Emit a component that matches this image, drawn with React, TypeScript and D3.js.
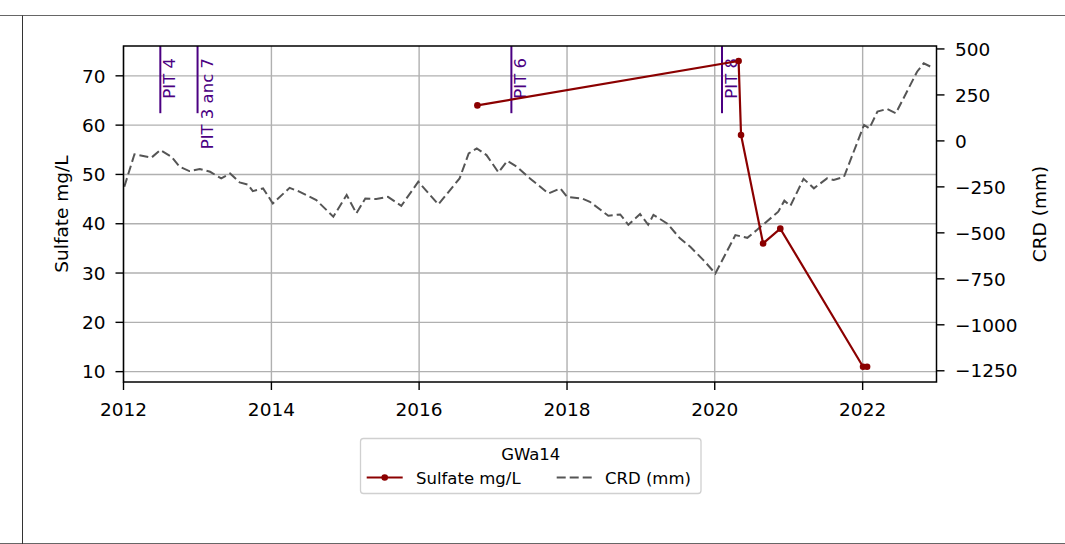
import React from "react";
import * as d3 from "d3";

const sulfateDates = ["2016-10-15", "2020-04-28", "2020-05-10", "2020-08-27", "2020-11-20", "2022-01-03", "2022-01-23"];
const sulfateValues = [64, 73, 58, 36, 39, 11, 11];

const crdDates = [
  "2012-01-05", "2012-02-24", "2012-05-18", "2012-07-01", "2012-08-25", "2012-10-04", "2012-11-21",
  "2013-01-12", "2013-03-04", "2013-04-28", "2013-06-11", "2013-07-28", "2013-09-06", "2013-10-01", "2013-11-21",
  "2014-01-08", "2014-04-01", "2014-05-19", "2014-08-11", "2014-11-03",
  "2015-01-08", "2015-02-25", "2015-04-10", "2015-06-03", "2015-07-31", "2015-10-05", "2015-12-28",
  "2016-04-05", "2016-07-19", "2016-09-02", "2016-10-12", "2016-11-29",
  "2017-01-27", "2017-03-12", "2017-04-28", "2017-07-02", "2017-10-01", "2017-11-29",
  "2018-01-01", "2018-03-15", "2018-04-24", "2018-07-24", "2018-09-21", "2018-10-31", "2018-12-28",
  "2019-02-06", "2019-03-04", "2019-05-12", "2019-07-13", "2019-09-02", "2019-11-06",
  "2020-01-04", "2020-04-12", "2020-06-10", "2020-07-27", "2020-11-10", "2020-12-10",
  "2021-01-09", "2021-03-15", "2021-05-05", "2021-07-09", "2021-08-11", "2021-10-01",
  "2022-01-08", "2022-02-03", "2022-03-15", "2022-05-01", "2022-06-14", "2022-09-27", "2022-10-30", "2022-12-02",
];
const crdValues = [
  -249, -73, -91, -50, -86, -140, -164,
  -153, -168, -204, -177, -226, -237, -273, -258,
  -340, -255, -276, -322, -412,
  -294, -394, -313, -316, -304, -353, -222,
  -345, -204, -68, -41, -77,
  -171, -109, -140, -204, -286, -258,
  -304, -313, -331, -407, -400, -456, -398,
  -456, -402, -450, -530, -576, -648,
  -721, -512, -527, -485, -385, -325,
  -353, -206, -258, -204, -213, -195,
  87, 68, 159, 174, 150, 376, 422, 404,
];

const pitLabels = ["PIT 4", "PIT 3 anc 7", "PIT 6", "PIT 8"];
const pitDates = ["2012-07-01", "2013-01-01", "2017-04-01", "2020-02-06"];

const xTickYears = [2012, 2014, 2016, 2018, 2020, 2022];
const leftTicks = [10, 20, 30, 40, 50, 60, 70];
const rightTicks = [500, 250, 0, -250, -500, -750, -1000, -1250];

const legendTitle = "GWa14";
const sulfateName = "Sulfate mg/L";
const crdName = "CRD (mm)";

const W = 1065;
const H = 544;
const L = 123.5, R = 936.5, T = 46, B = 382;
const FONT = "DejaVu Sans, sans-serif";
const RED = "#8b0000";
const PURPLE = "#4b0082";

export default function App() {
  const parse = d3.timeParse("%Y-%m-%d");
  const x = d3.scaleTime().domain([new Date(2012, 0, 1), new Date(2023, 0, 1)]).range([L, R]);
  const yL = d3.scaleLinear().domain([7.9, 76.05]).range([B, T]);
  const yR = d3.scaleLinear().domain([-1311, 516]).range([B, T]);

  const sulfate = sulfateDates.map((d, i) => ({ d: parse(d)!, v: sulfateValues[i] }));
  const crd = crdDates.map((d, i) => ({ d: parse(d)!, v: crdValues[i] }));

  const sLine = d3.line<{ d: Date; v: number }>().x((p) => x(p.d)).y((p) => yL(p.v));
  const cLine = d3.line<{ d: Date; v: number }>().x((p) => x(p.d)).y((p) => yR(p.v));

  const fmtR = (v: number) => (v < 0 ? "\u2212" + Math.abs(v) : String(v));
  const tickFont = 18.5;

  const legX = 360.5, legY = 438.5, legW = 340.5, legH = 55;

  return (
    <svg width={W} height={H} style={{ position: "absolute", left: 0, top: 0, background: "#fff" }} fontFamily={FONT}>
      <rect x={0} y={0} width={W} height={H} fill="#fff" />
      {/* page frame */}
      <line x1={0} x2={W} y1={15.5} y2={15.5} stroke="#666" strokeWidth={1} />
      <line x1={0} x2={W} y1={543.5} y2={543.5} stroke="#666" strokeWidth={1} />
      <line x1={22.5} x2={22.5} y1={15.5} y2={H} stroke="#333" strokeWidth={1} />

      <defs>
        <clipPath id="plotclip">
          <rect x={L} y={T} width={R - L} height={B - T} />
        </clipPath>
      </defs>

      {/* grid */}
      {xTickYears.map((yr) => (
        <line key={"gx" + yr} x1={x(new Date(yr, 0, 1))} x2={x(new Date(yr, 0, 1))} y1={T} y2={B} stroke="#b0b0b0" strokeWidth={1.4} />
      ))}
      {leftTicks.map((t) => (
        <line key={"gy" + t} x1={L} x2={R} y1={yL(t)} y2={yL(t)} stroke="#b0b0b0" strokeWidth={1.4} />
      ))}

      {/* PIT markers */}
      {pitDates.map((d, i) => {
        const px = x(parse(d)!);
        return (
          <g key={"pit" + i}>
            <line x1={px} x2={px} y1={T} y2={T + (B - T) * 0.2} stroke={PURPLE} strokeWidth={2} />
            <text
              transform={`translate(${px + 15},${58}) rotate(-90)`}
              textAnchor="end"
              fontSize={16.5}
              fill={PURPLE}
            >
              {pitLabels[i]}
            </text>
          </g>
        );
      })}

      {/* CRD dashed line */}
      <path d={cLine(crd)!} fill="none" stroke="#555" strokeWidth={2} strokeDasharray="9,4" clipPath="url(#plotclip)" />

      {/* Sulfate */}
      <path d={sLine(sulfate)!} fill="none" stroke={RED} strokeWidth={2.2} />
      {sulfate.map((p, i) => (
        <circle key={"s" + i} cx={x(p.d)} cy={yL(p.v)} r={3.3} fill={RED} />
      ))}

      {/* spines */}
      <rect x={L} y={T} width={R - L} height={B - T} fill="none" stroke="#000" strokeWidth={1.5} />

      {/* x ticks */}
      {xTickYears.map((yr) => {
        const px = x(new Date(yr, 0, 1));
        return (
          <g key={"xt" + yr}>
            <line x1={px} x2={px} y1={B} y2={B + 8} stroke="#000" strokeWidth={1.4} />
            <text x={px} y={B + 33.5} textAnchor="middle" fontSize={tickFont} fill="#000">
              {yr}
            </text>
          </g>
        );
      })}

      {/* left ticks */}
      {leftTicks.map((t) => (
        <g key={"lt" + t}>
          <line x1={L - 8} x2={L} y1={yL(t)} y2={yL(t)} stroke="#000" strokeWidth={1.4} />
          <text x={L - 18} y={yL(t) + 6.7} textAnchor="end" fontSize={tickFont} fill="#000">
            {t}
          </text>
        </g>
      ))}

      {/* right ticks */}
      {rightTicks.map((t) => (
        <g key={"rt" + t}>
          <line x1={R} x2={R + 8} y1={yR(t)} y2={yR(t)} stroke="#000" strokeWidth={1.4} />
          <text x={R + 18.5} y={yR(t) + 6.7} textAnchor="start" fontSize={tickFont} fill="#000">
            {fmtR(t)}
          </text>
        </g>
      ))}

      {/* axis labels */}
      <text transform={`translate(${68},${(T + B) / 2}) rotate(-90)`} textAnchor="middle" fontSize={tickFont} fill="#000">
        {sulfateName}
      </text>
      <text transform={`translate(${1046},${(T + B) / 2}) rotate(-90)`} textAnchor="middle" fontSize={tickFont} fill="#000">
        {crdName}
      </text>

      {/* legend */}
      <rect x={legX} y={legY} width={legW} height={legH} rx={3} ry={3} fill="#fff" stroke="#d0d0d0" strokeWidth={1.3} />
      <text x={legX + legW / 2} y={459.5} textAnchor="middle" fontSize={16.5} fill="#000">
        {legendTitle}
      </text>
      <line x1={366.7} x2={402.7} y1={477.5} y2={477.5} stroke={RED} strokeWidth={2.2} />
      <circle cx={384.7} cy={477.5} r={3.3} fill={RED} />
      <text x={416} y={483.5} fontSize={16.5} fill="#000">
        {sulfateName}
      </text>
      <line x1={556.7} x2={592.7} y1={477.5} y2={477.5} stroke="#555" strokeWidth={2} strokeDasharray="9,4" />
      <text x={605} y={483.5} fontSize={16.5} fill="#000">
        {crdName}
      </text>
    </svg>
  );
}
